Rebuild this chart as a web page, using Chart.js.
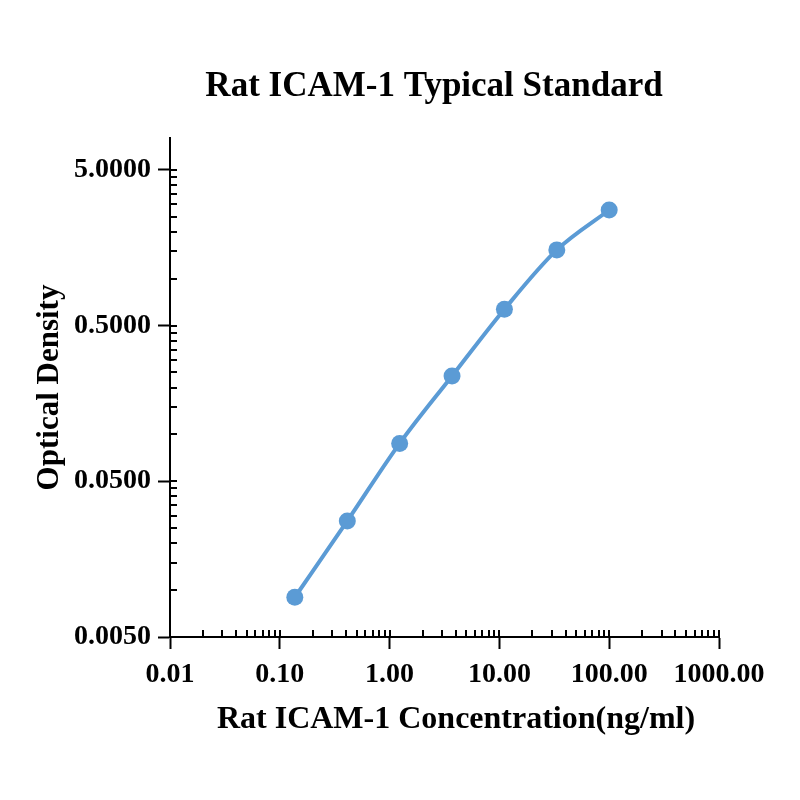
<!DOCTYPE html>
<html>
<head>
<meta charset="utf-8">
<script src="https://cdn.jsdelivr.net/npm/chart.js@4.4.1/dist/chart.umd.min.js"></script>
<style>
  html, body { margin: 0; padding: 0; background: #fff; }
</style>
</head>
<body>
<canvas id="myChart" width="800" height="800"></canvas>
<script>
const titleText = "Rat ICAM-1 Typical Standard"
const xTitle = "Rat ICAM-1 Concentration(ng/ml)"
const yTitle = "Optical Density"
const concentrations = [0.137, 0.412, 1.235, 3.704, 11.11, 33.33, 100]
const densities = [0.0090, 0.0278, 0.0875, 0.237, 0.636, 1.53, 2.76]
const xTickValues = [0.01, 0.1, 1, 10, 100, 1000]
const xTickLabels = ['0.01', '0.10', '1.00', '10.00', '100.00', '1000.00']
const yTickValues = [0.005, 0.05, 0.5, 5]
const yTickLabels = ['0.0050', '0.0500', '0.5000', '5.0000']

const serif = '"Liberation Serif", "Times New Roman", serif'
const blue = "#5B9BD5"

// major ticks get a label, minor ones (2..9 x major) are unlabelled
function buildTicks(values, labels) {
    const out = []
    values.forEach((v, i) => {
        out.push({value: v, major: true, label: labels[i]})
        if (i < values.length - 1) {
            for (let k = 2; k <= 9; k++) out.push({value: v * k, major: false, label: ''})
        }
    })
    return out
}
const xTicks = buildTicks(xTickValues, xTickLabels)
const yTicks = buildTicks(yTickValues, yTickLabels)

// short tick marks drawn inside the plot area
const innerTicks = {
    id: 'innerTicks',
    beforeDatasetsDraw(chart) {
        const {ctx, scales: {x, y}, chartArea} = chart
        ctx.save()
        ctx.strokeStyle = "#000"
        ctx.lineWidth = 2
        ctx.beginPath()
        xTicks.forEach(t => {
            const px = Math.round(x.getPixelForValue(t.value))
            ctx.moveTo(px, chartArea.bottom)
            ctx.lineTo(px, chartArea.bottom - 7)
        })
        yTicks.forEach(t => {
            const py = Math.round(y.getPixelForValue(t.value))
            ctx.moveTo(chartArea.left, py)
            ctx.lineTo(chartArea.left + 7, py)
        })
        ctx.stroke()
        ctx.restore()
    }
}

// main title and x axis title, placed a little right of the canvas centre like the original
const titles = {
    id: 'titles',
    afterDraw(chart) {
        const ctx = chart.ctx
        ctx.save()
        ctx.fillStyle = "#000"
        ctx.textAlign = "center"
        ctx.textBaseline = "alphabetic"
        ctx.font = 'bold 35px ' + serif
        ctx.fillText(titleText, 434, 96)
        ctx.font = 'bold 32px ' + serif
        ctx.textBaseline = "middle"
        ctx.fillText(xTitle, 456, 720)
        ctx.restore()
    }
}

new Chart("myChart", {
    type: "line",
    data: {
        datasets: [{
            data: concentrations.map((c, i) => ({x: c, y: densities[i]})),
            borderColor: blue,
            backgroundColor: blue,
            borderWidth: 4,
            pointRadius: 8.5,
            pointBorderWidth: 0,
            pointBackgroundColor: blue,
            fill: false,
            tension: 0.4,
            cubicInterpolationMode: "monotone",
        }]
    },
    options: {
        responsive: false,
        animation: false,
        devicePixelRatio: 1,
        layout: {padding: {top: 138, right: 81, left: 0, bottom: 0}},
        plugins: {
            legend: {display: false},
            title: {display: false},
            tooltip: {enabled: false}
        },
        scales: {
            x: {
                type: "logarithmic",
                min: 0.01,
                max: 1000,
                afterBuildTicks: scale => { scale.ticks = xTicks.map(t => ({value: t.value})) },
                afterFit: scale => { scale.height = 163 },
                grid: {
                    drawOnChartArea: false,
                    tickLength: 12,
                    tickWidth: 2,
                    tickColor: ctx => (xTicks[ctx.index] && xTicks[ctx.index].major) ? "#000" : "rgba(0,0,0,0)"
                },
                border: {display: true, color: "#000", width: 2},
                ticks: {
                    autoSkip: false,
                    maxRotation: 0,
                    minRotation: 0,
                    padding: 9,
                    color: "#000",
                    font: {family: serif, size: 28, weight: "bold"},
                    callback: (v, i) => xTicks[i] ? xTicks[i].label : ''
                },
                title: {display: false}
            },
            y: {
                type: "logarithmic",
                min: 0.005,
                max: 8,
                afterBuildTicks: scale => { scale.ticks = yTicks.map(t => ({value: t.value})) },
                afterFit: scale => { scale.width = 170 },
                grid: {
                    drawOnChartArea: false,
                    tickLength: 12,
                    tickWidth: 2,
                    tickColor: ctx => (yTicks[ctx.index] && yTicks[ctx.index].major) ? "#000" : "rgba(0,0,0,0)"
                },
                border: {display: true, color: "#000", width: 2},
                ticks: {
                    autoSkip: false,
                    padding: 7,
                    color: "#000",
                    font: {family: serif, size: 28, weight: "bold"},
                    callback: (v, i) => yTicks[i] ? yTicks[i].label : ''
                },
                title: {
                    display: true,
                    text: yTitle,
                    color: "#000",
                    font: {family: serif, size: 31, weight: "bold"},
                    padding: {top: 31, bottom: 0}
                }
            }
        }
    },
    plugins: [innerTicks, titles]
})
</script>
</body>
</html>
